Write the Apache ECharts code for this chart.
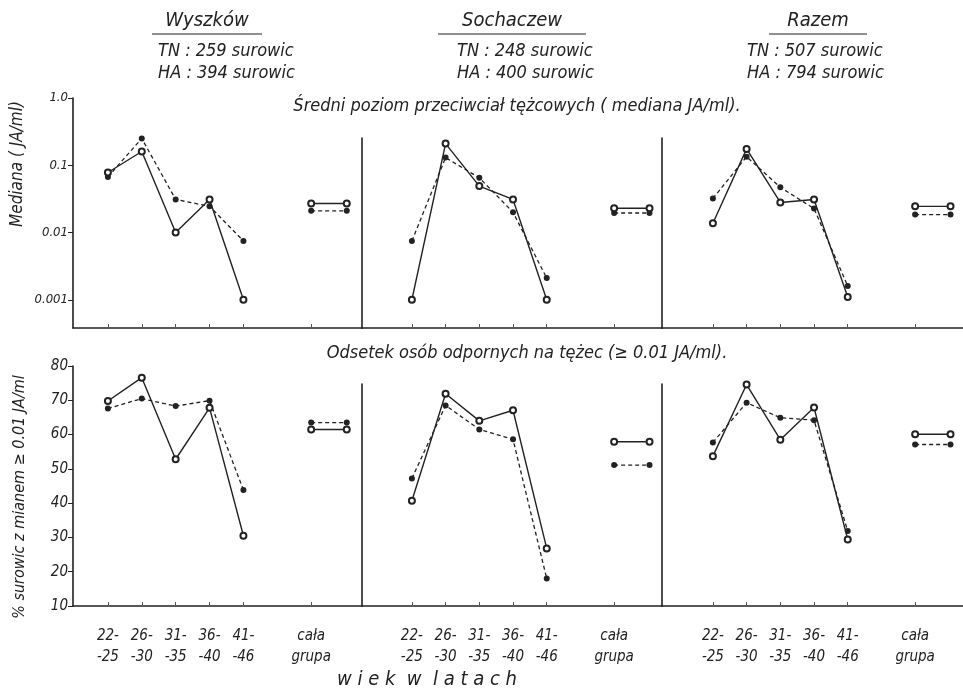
<!DOCTYPE html>
<html>
<head>
<meta charset="utf-8">
<title>Przeciwciała tężcowe</title>
<script src="https://cdn.jsdelivr.net/npm/echarts@6/dist/echarts.min.js"></script>
<style>
  html, body { margin: 0; padding: 0; background: #fff; }
  #chart { width: 963px; height: 689px; }
</style>
</head>
<body>
<div id="chart"></div>
<script>
// grupy wiekowe (oś x)
const ageGroups = ['22-\n-25', '26-\n-30', '31-\n-35', '36-\n-40', '41-\n-46'];
const wholeGroup = 'cała\ngrupa';
const places = ['Wyszków', 'Sochaczew', 'Razem'];
const tnCounts = [259, 248, 507];
const haCounts = [394, 400, 794];

// mediana JA/ml - kolejno Wyszków, Sochaczew, Razem
const medianTN = [
  [0.078, 0.16, 0.010, 0.031, 0.001],
  [0.001, 0.21, 0.049, 0.031, 0.001],
  [0.0137, 0.175, 0.028, 0.031, 0.0011]
];
const medianHA = [
  [0.067, 0.25, 0.031, 0.0245, 0.0075],
  [0.0075, 0.13, 0.065, 0.020, 0.0021],
  [0.032, 0.134, 0.047, 0.0227, 0.0016]
];
const medianTNAll = [0.027, 0.023, 0.0245];
const medianHAAll = [0.021, 0.0195, 0.0185];

// odsetek surowic z mianem >= 0.01 JA/ml
const percentTN = [
  [69.8, 76.6, 52.8, 67.8, 30.5],
  [40.7, 71.9, 64.0, 67.1, 26.8],
  [53.7, 74.6, 58.5, 67.9, 29.4]
];
const percentHA = [
  [67.6, 70.5, 68.3, 69.9, 43.8],
  [47.2, 68.5, 61.5, 58.6, 18.0],
  [57.7, 69.3, 64.9, 64.2, 31.9]
];
const percentTNAll = [61.5, 57.9, 60.1];
const percentHAAll = [63.5, 51.1, 57.1];

// etykiety osi y
const medianTickValues = [0.001, 0.01, 0.1, 1];
const medianTickLabels = ['0.001', '0.01', '0.1', '1.0'];
const percentTickLabels = [10, 20, 30, 40, 50, 60, 70, 80];

const FONT = "'DejaVu Sans Condensed', 'Liberation Sans Narrow', 'DejaVu Sans', sans-serif";
const INK = '#222';

// uklad paneli
const colLeft = [73, 362, 662];
const colRight = [362, 662, 963];
const xMin = [-1.03, -1.48, -1.51];
const xMax = [7.5, 7.42, 7.42];
const xPos = [0, 1, 2, 3, 4, 6];
const allEnd = 7.05;

// gorny rzad: skala log, dolny: procenty
const topBottomPx = 328, topTopPx = [98, 138, 138];
const logMinExp = -3.42;
const pxPerDecade = (topBottomPx - topTopPx[0]) / (0 - logMinExp);
const botBottomPx = 606, botTopPx = [366, 384, 384];
const pxPerUnit = (botBottomPx - botTopPx[0]) / (80 - 10);

const chart = echarts.init(document.getElementById('chart'));

const grids = [], xAxes = [], yAxes = [], series = [];

for (let row = 0; row < 2; row++) {
  for (let col = 0; col < 3; col++) {
    const gi = row * 3 + col;
    const topPx = row === 0 ? topTopPx[col] : botTopPx[col];
    const bottomPx = row === 0 ? topBottomPx : botBottomPx;
    grids.push({
      left: colLeft[col],
      top: topPx,
      width: colRight[col] - colLeft[col],
      height: bottomPx - topPx,
      outerBoundsMode: 'none'
    });

    xAxes.push({
      type: 'value',
      gridIndex: gi,
      min: xMin[col],
      max: xMax[col],
      axisLine: { show: true, onZero: false, lineStyle: { color: INK, width: 1.6 } },
      axisTick: { show: true, inside: true, length: 4, customValues: xPos, lineStyle: { color: '#555', width: 1 } },
      splitLine: { show: false },
      axisLabel: {
        show: row === 1,
        customValues: xPos,
        formatter: v => (v === 6 ? wholeGroup : ageGroups[v]),
        fontFamily: FONT,
        fontStyle: 'italic',
        fontSize: 15,
        lineHeight: 21,
        color: INK,
        margin: 20
      }
    });

    const first = col === 0;
    if (row === 0) {
      const maxExp = -(topPx - topTopPx[0]) / pxPerDecade;
      yAxes.push({
        type: 'log',
        logBase: 10,
        gridIndex: gi,
        min: Math.pow(10, logMinExp),
        max: Math.pow(10, maxExp),
        axisLine: { show: true, onZero: false, lineStyle: { color: INK, width: 1.6 } },
        axisTick: { show: first, length: 5, customValues: medianTickValues, lineStyle: { color: INK } },
        splitLine: { show: false },
        axisLabel: {
          show: first,
          margin: 5,
          customValues: medianTickValues,
          fontFamily: FONT,
          fontStyle: 'italic',
          fontSize: 13,
          color: INK,
          formatter: v => {
            const r = Math.round(Math.log10(v));
            const k = medianTickValues.findIndex(t => Math.round(Math.log10(t)) === r);
            return k >= 0 ? medianTickLabels[k] : '';
          }
        }
      });
    } else {
      const maxVal = 80 - (topPx - botTopPx[0]) / pxPerUnit;
      yAxes.push({
        type: 'value',
        gridIndex: gi,
        min: 10,
        max: first ? 80 : maxVal,
        interval: first ? 10 : undefined,
        axisLine: { show: true, onZero: false, lineStyle: { color: INK, width: 1.6 } },
        axisTick: { show: first, length: 5, lineStyle: { color: INK } },
        splitLine: { show: false },
        axisLabel: {
          show: first,
          margin: 5,
          fontFamily: FONT,
          fontStyle: 'italic',
          fontSize: 15,
          color: INK,
          formatter: v => (percentTickLabels.indexOf(v) >= 0 ? String(v) : '')
        }
      });
    }

    const tn = row === 0 ? medianTN[col] : percentTN[col];
    const ha = row === 0 ? medianHA[col] : percentHA[col];
    const tnAll = row === 0 ? medianTNAll[col] : percentTNAll[col];
    const haAll = row === 0 ? medianHAAll[col] : percentHAAll[col];

    const haStyle = {
      type: 'line', xAxisIndex: gi, yAxisIndex: gi,
      symbol: 'circle', symbolSize: 6, clip: false, silent: true,
      lineStyle: { color: INK, width: 1.3, type: [4, 3] },
      itemStyle: { color: INK }
    };
    const tnStyle = {
      type: 'line', xAxisIndex: gi, yAxisIndex: gi,
      symbol: 'emptyCircle', symbolSize: 6, clip: false, silent: true,
      lineStyle: { color: INK, width: 1.4 },
      itemStyle: { color: INK, borderWidth: 1.1 }
    };
    series.push(Object.assign({ name: 'HA', data: ha.map((v, i) => [i, v]) }, haStyle));
    series.push(Object.assign({ name: 'TN', data: tn.map((v, i) => [i, v]) }, tnStyle));
    series.push(Object.assign({ name: 'HA cała grupa', data: [[6, haAll], [allEnd, haAll]] }, haStyle));
    series.push(Object.assign({ name: 'TN cała grupa', data: [[6, tnAll], [allEnd, tnAll]] }, tnStyle));
  }
}

// napisy
const titleX = [207, 512, 818];
const underlineHalf = [55, 74, 49];
const countX = [158, 457, 747];
const graphic = [];
places.forEach((p, i) => {
  graphic.push({
    type: 'text', x: titleX[i], y: 21,
    style: { text: p, font: 'italic 20px ' + FONT, fill: INK, textAlign: 'center', textVerticalAlign: 'middle' }
  });
  graphic.push({
    type: 'line',
    shape: { x1: titleX[i] - underlineHalf[i], y1: 34, x2: titleX[i] + underlineHalf[i], y2: 34 },
    style: { stroke: INK, lineWidth: 1.2 }
  });
  graphic.push({
    type: 'text', x: countX[i], y: 51,
    style: { text: 'TN : ' + tnCounts[i] + ' surowic', font: 'italic 18px ' + FONT, fill: INK, textAlign: 'left', textVerticalAlign: 'middle' }
  });
  graphic.push({
    type: 'text', x: countX[i], y: 73,
    style: { text: 'HA : ' + haCounts[i] + ' surowic', font: 'italic 18px ' + FONT, fill: INK, textAlign: 'left', textVerticalAlign: 'middle' }
  });
});
graphic.push({
  type: 'text', x: 517, y: 106,
  style: { text: 'Średni poziom przeciwciał tężcowych ( mediana JA/ml).', font: 'italic 18px ' + FONT, fill: INK, textAlign: 'center', textVerticalAlign: 'middle' }
});
graphic.push({
  type: 'text', x: 527, y: 353,
  style: { text: 'Odsetek osób odpornych na tężec (≥ 0.01 JA/ml).', font: 'italic 18px ' + FONT, fill: INK, textAlign: 'center', textVerticalAlign: 'middle' }
});
graphic.push({
  type: 'text', x: 18, y: 164, rotation: Math.PI / 2,
  style: { text: 'Mediana ( JA/ml)', font: 'italic 17px ' + FONT, fill: INK, textAlign: 'center', textVerticalAlign: 'middle' }
});
graphic.push({
  type: 'text', x: 20, y: 497, rotation: Math.PI / 2,
  style: { text: '% surowic z mianem ≥ 0.01 JA/ml', font: 'italic 16px ' + FONT, fill: INK, textAlign: 'center', textVerticalAlign: 'middle' }
});
graphic.push({
  type: 'text', x: 427, y: 680,
  style: { text: 'w i e k  w  l a t a c h', font: 'italic 20px ' + FONT, fill: INK, textAlign: 'center', textVerticalAlign: 'middle' }
});

chart.setOption({
  backgroundColor: '#fff',
  animation: false,
  grid: grids,
  xAxis: xAxes,
  yAxis: yAxes,
  series: series,
  graphic: graphic
});
</script>
</body>
</html>
